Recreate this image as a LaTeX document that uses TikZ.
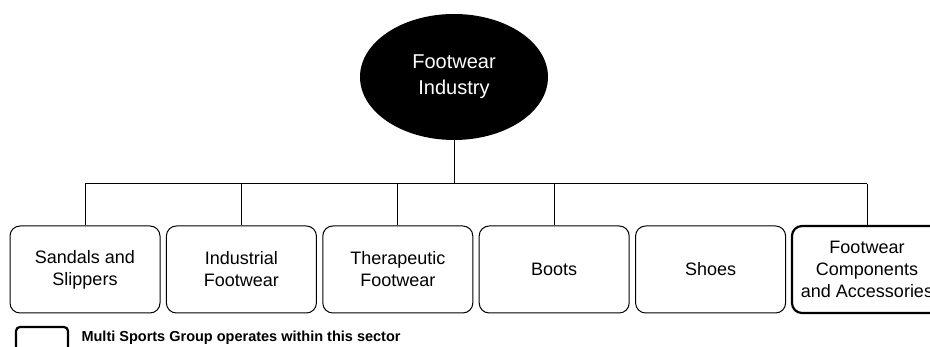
\documentclass[tikz,border=0pt]{standalone}
\usepackage{fontspec}
\setmainfont{Liberation Sans}
\usetikzlibrary{positioning,shapes.geometric}

\begin{document}
\begin{tikzpicture}[
    x=1pt, y=1pt,
    sectorbox/.style={draw, line width=1pt, rounded corners=10pt, minimum width=150pt,
      minimum height=87pt, inner sep=0pt, align=center, font=\fontsize{18}{22}\selectfont},
    msgbox/.style={sectorbox, line width=2.2pt},
    link/.style={line width=1pt}
  ]
  \useasboundingbox (0,0) rectangle (930,347);

  % top of the tree
  \node[ellipse, fill=black, minimum width=188pt, minimum height=126pt, inner sep=0pt,
    text=white, align=center, font=\fontsize{20}{26}\selectfont] (industry) at (454,270) {Footwear\\Industry};

  % sectors
  \foreach \x/\name/\txt in {85/sandals/{Sandals and\\Slippers},
                             241.4/industrial/{Industrial\\Footwear},
                             397.8/therapeutic/{Therapeutic\\Footwear},
                             554.2/boots/{Boots},
                             710.6/shoes/{Shoes}} {
    \node[sectorbox] (\name) at (\x,77.5) {\txt};
  }
  \node[msgbox] (accessories) at (867,77.5) {Footwear\\Components\\and Accessories};

  % connectors
  \coordinate (bus) at (454,163);
  \draw[link] (industry.south) -- (bus);
  \draw[link] (sandals.north |- bus) -- (accessories.north |- bus);
  \foreach \name in {sandals,industrial,therapeutic,boots,accessories} {
    \draw[link] (\name.north |- bus) -- (\name.north);
  }

  % legend
  \node[msgbox, rounded corners=4pt, minimum width=52pt, minimum height=32pt] (legendkey) at (42,4) {};
  \node[anchor=west, font=\bfseries\fontsize{14.5}{17}\selectfont] (legendtext) at (78,9)
    {Multi Sports Group operates within this sector};
\end{tikzpicture}
\end{document}
